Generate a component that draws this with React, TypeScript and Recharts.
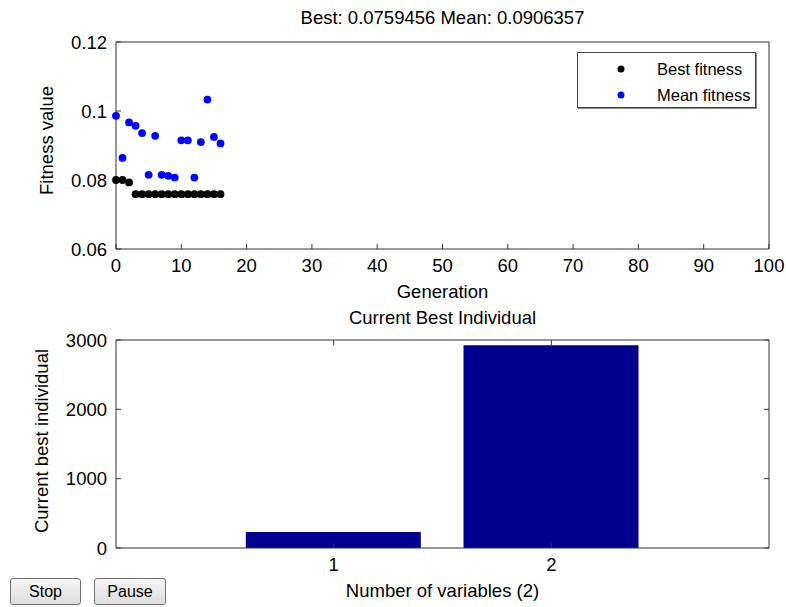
import {
  ComposedChart,
  ScatterChart,
  Scatter,
  Bar,
  XAxis,
  YAxis,
  Legend,
  Label,
} from 'recharts'

// generation results of the GA run
const generations = [0, 1, 2, 3, 4, 5, 6, 7, 8, 9, 10, 11, 12, 13, 14, 15, 16]
const bestFitness = [
  0.08, 0.08, 0.0793, 0.0759, 0.0759, 0.0759, 0.0759, 0.0759, 0.0759,
  0.0759, 0.0759, 0.0759, 0.0759, 0.0759, 0.0759, 0.0759, 0.0759,
]
const meanFitness = [
  0.0986, 0.0864, 0.0967, 0.0957, 0.0936, 0.0815, 0.0928, 0.0815, 0.0812,
  0.0807, 0.0915, 0.0915, 0.0807, 0.091, 0.1033, 0.0925, 0.0906,
]
const genTicks = [0, 10, 20, 30, 40, 50, 60, 70, 80, 90, 100]
const fitnessTicks = [0.06, 0.08, 0.1, 0.12]

// current best individual
const variables = [1, 2]
const bestIndividual = [230, 2925]
const individualTicks = [0, 1000, 2000, 3000]

const bestData = generations.map((g, i) => ({ gen: g, value: bestFitness[i] }))
const meanData = generations.map((g, i) => ({ gen: g, value: meanFitness[i] }))
const barData = variables.map((v, i) => ({ v, value: bestIndividual[i] }))

const FONT = '"Liberation Sans", Arial, sans-serif'
const AXIS = '#333'
const tickStyle = { fill: '#000', fontSize: 18.5, fontFamily: FONT }

const hLabel = (text: string, dy: number) => (props: any) => {
  const vb = props.viewBox || {}
  return (
    <text x={vb.x + vb.width / 2} y={vb.y + dy} textAnchor="middle" fontSize={18.5} fontFamily={FONT} fill="#000">
      {text}
    </text>
  )
}

const vLabel = (text: string, x: number, dy: number) => (props: any) => {
  const vb = props.viewBox || {}
  const cy = vb.y + vb.height / 2 + dy
  return (
    <text x={x} y={cy} transform={`rotate(-90 ${x} ${cy})`} textAnchor="middle" fontSize={18.5} fontFamily={FONT} fill="#000">
      {text}
    </text>
  )
}

const dot = (color: string) => (p: any) => <circle cx={p.cx} cy={p.cy} r={3.9} fill={color} />

function LegendBox({ payload }: any) {
  return (
    <div
      style={{
        width: 179,
        height: 56,
        boxSizing: 'border-box',
        border: '1px solid #444',
        boxShadow: '1px 1px 0 #888',
        background: '#fff',
        fontFamily: FONT,
        fontSize: 16.5,
        paddingTop: 3,
      }}
    >
      {(payload || []).map((e: any) => (
        <div key={e.value} style={{ display: 'flex', alignItems: 'center', height: 26 }}>
          <svg width={79} height={10}>
            <circle cx={43} cy={5} r={3.5} fill={e.color} />
          </svg>
          <span style={{ color: '#000' }}>{e.value}</span>
        </div>
      ))}
    </div>
  )
}

const btn: React.CSSProperties = {
  position: 'absolute',
  top: 578,
  height: 27,
  fontFamily: FONT,
  fontSize: 16,
  border: '1px solid #707070',
  borderRadius: 3,
  background: 'linear-gradient(#f5f5f5, #dddddd)',
  padding: 0,
  color: '#000',
}

export default function App() {
  return (
    <div style={{ position: 'absolute', left: 0, top: 0, width: 786, height: 607, background: '#fff', fontFamily: FONT }}>
      <div style={{ position: 'absolute', left: 0, top: 0 }}>
        <ScatterChart width={786} height={306} margin={{ top: 41, right: 16, bottom: 0, left: 0 }}>
          <XAxis
            dataKey="gen"
            type="number"
            domain={[0, 100]}
            ticks={genTicks}
            height={57}
            stroke={AXIS}
            tickSize={-5}
            tickMargin={15}
            tick={tickStyle}
            interval={0}
          >
            <Label content={hLabel('Generation', 49)} />
          </XAxis>
          <XAxis
            xAxisId="top"
            orientation="top"
            dataKey="gen"
            type="number"
            domain={[0, 100]}
            ticks={genTicks}
            height={1}
            stroke={AXIS}
            tickSize={-5}
            tickFormatter={() => ''}
            interval={0}
          >
            <Label content={hLabel('Best: 0.0759456 Mean: 0.0906357', -17)} />
          </XAxis>
          <YAxis
            dataKey="value"
            type="number"
            domain={[0.06, 0.12]}
            ticks={fitnessTicks}
            width={116}
            stroke={AXIS}
            tickSize={-5}
            tickMargin={14}
            tick={tickStyle}
            interval={0}
          >
            <Label content={vLabel('Fitness value', 53, -5)} />
          </YAxis>
          <YAxis
            yAxisId="right"
            orientation="right"
            dataKey="value"
            type="number"
            domain={[0.06, 0.12]}
            ticks={fitnessTicks}
            width={1}
            stroke={AXIS}
            tickSize={-5}
            tickFormatter={() => ''}
            interval={0}
          />
          <Scatter name="Best fitness" data={bestData} fill="#000000" shape={dot('#000000')} isAnimationActive={false} />
          <Scatter name="Mean fitness" data={meanData} fill="#0000ff" shape={dot('#0000ff')} isAnimationActive={false} />
          <Legend
            layout="vertical"
            align="center"
            verticalAlign="middle"
            content={<LegendBox />}
            wrapperStyle={{ position: 'absolute', left: 577, top: 52, width: 179 }}
          />
        </ScatterChart>
      </div>
      <div style={{ position: 'absolute', left: 0, top: 300 }}>
        <ComposedChart width={786} height={307} data={barData} margin={{ top: 39, right: 16, bottom: 0, left: 0 }}>
          <XAxis
            dataKey="v"
            type="number"
            domain={[0, 3]}
            ticks={variables}
            height={59}
            stroke={AXIS}
            tickSize={-5}
            tickMargin={15}
            tick={tickStyle}
            interval={0}
          >
            <Label content={hLabel('Number of variables (2)', 48.5)} />
          </XAxis>
          <XAxis
            xAxisId="top"
            orientation="top"
            dataKey="v"
            type="number"
            domain={[0, 3]}
            ticks={variables}
            height={1}
            stroke={AXIS}
            tickSize={-5}
            tickFormatter={() => ''}
            interval={0}
          >
            <Label content={hLabel('Current Best Individual', -15.5)} />
          </XAxis>
          <YAxis
            type="number"
            domain={[0, 3000]}
            ticks={individualTicks}
            width={116}
            stroke={AXIS}
            tickSize={-5}
            tickMargin={14}
            tick={tickStyle}
            interval={0}
          >
            <Label content={vLabel('Current best individual', 48, -3)} />
          </YAxis>
          <YAxis
            yAxisId="right"
            orientation="right"
            dataKey="value"
            type="number"
            domain={[0, 3000]}
            ticks={individualTicks}
            width={1}
            stroke={AXIS}
            tickSize={-5}
            tickFormatter={() => ''}
            interval={0}
          />
          <Bar dataKey="value" fill="#000090" barSize={175} isAnimationActive={false} />
        </ComposedChart>
      </div>
      <button style={{ ...btn, left: 10, width: 71 }}>Stop</button>
      <button style={{ ...btn, left: 94, width: 72 }}>Pause</button>
    </div>
  )
}
